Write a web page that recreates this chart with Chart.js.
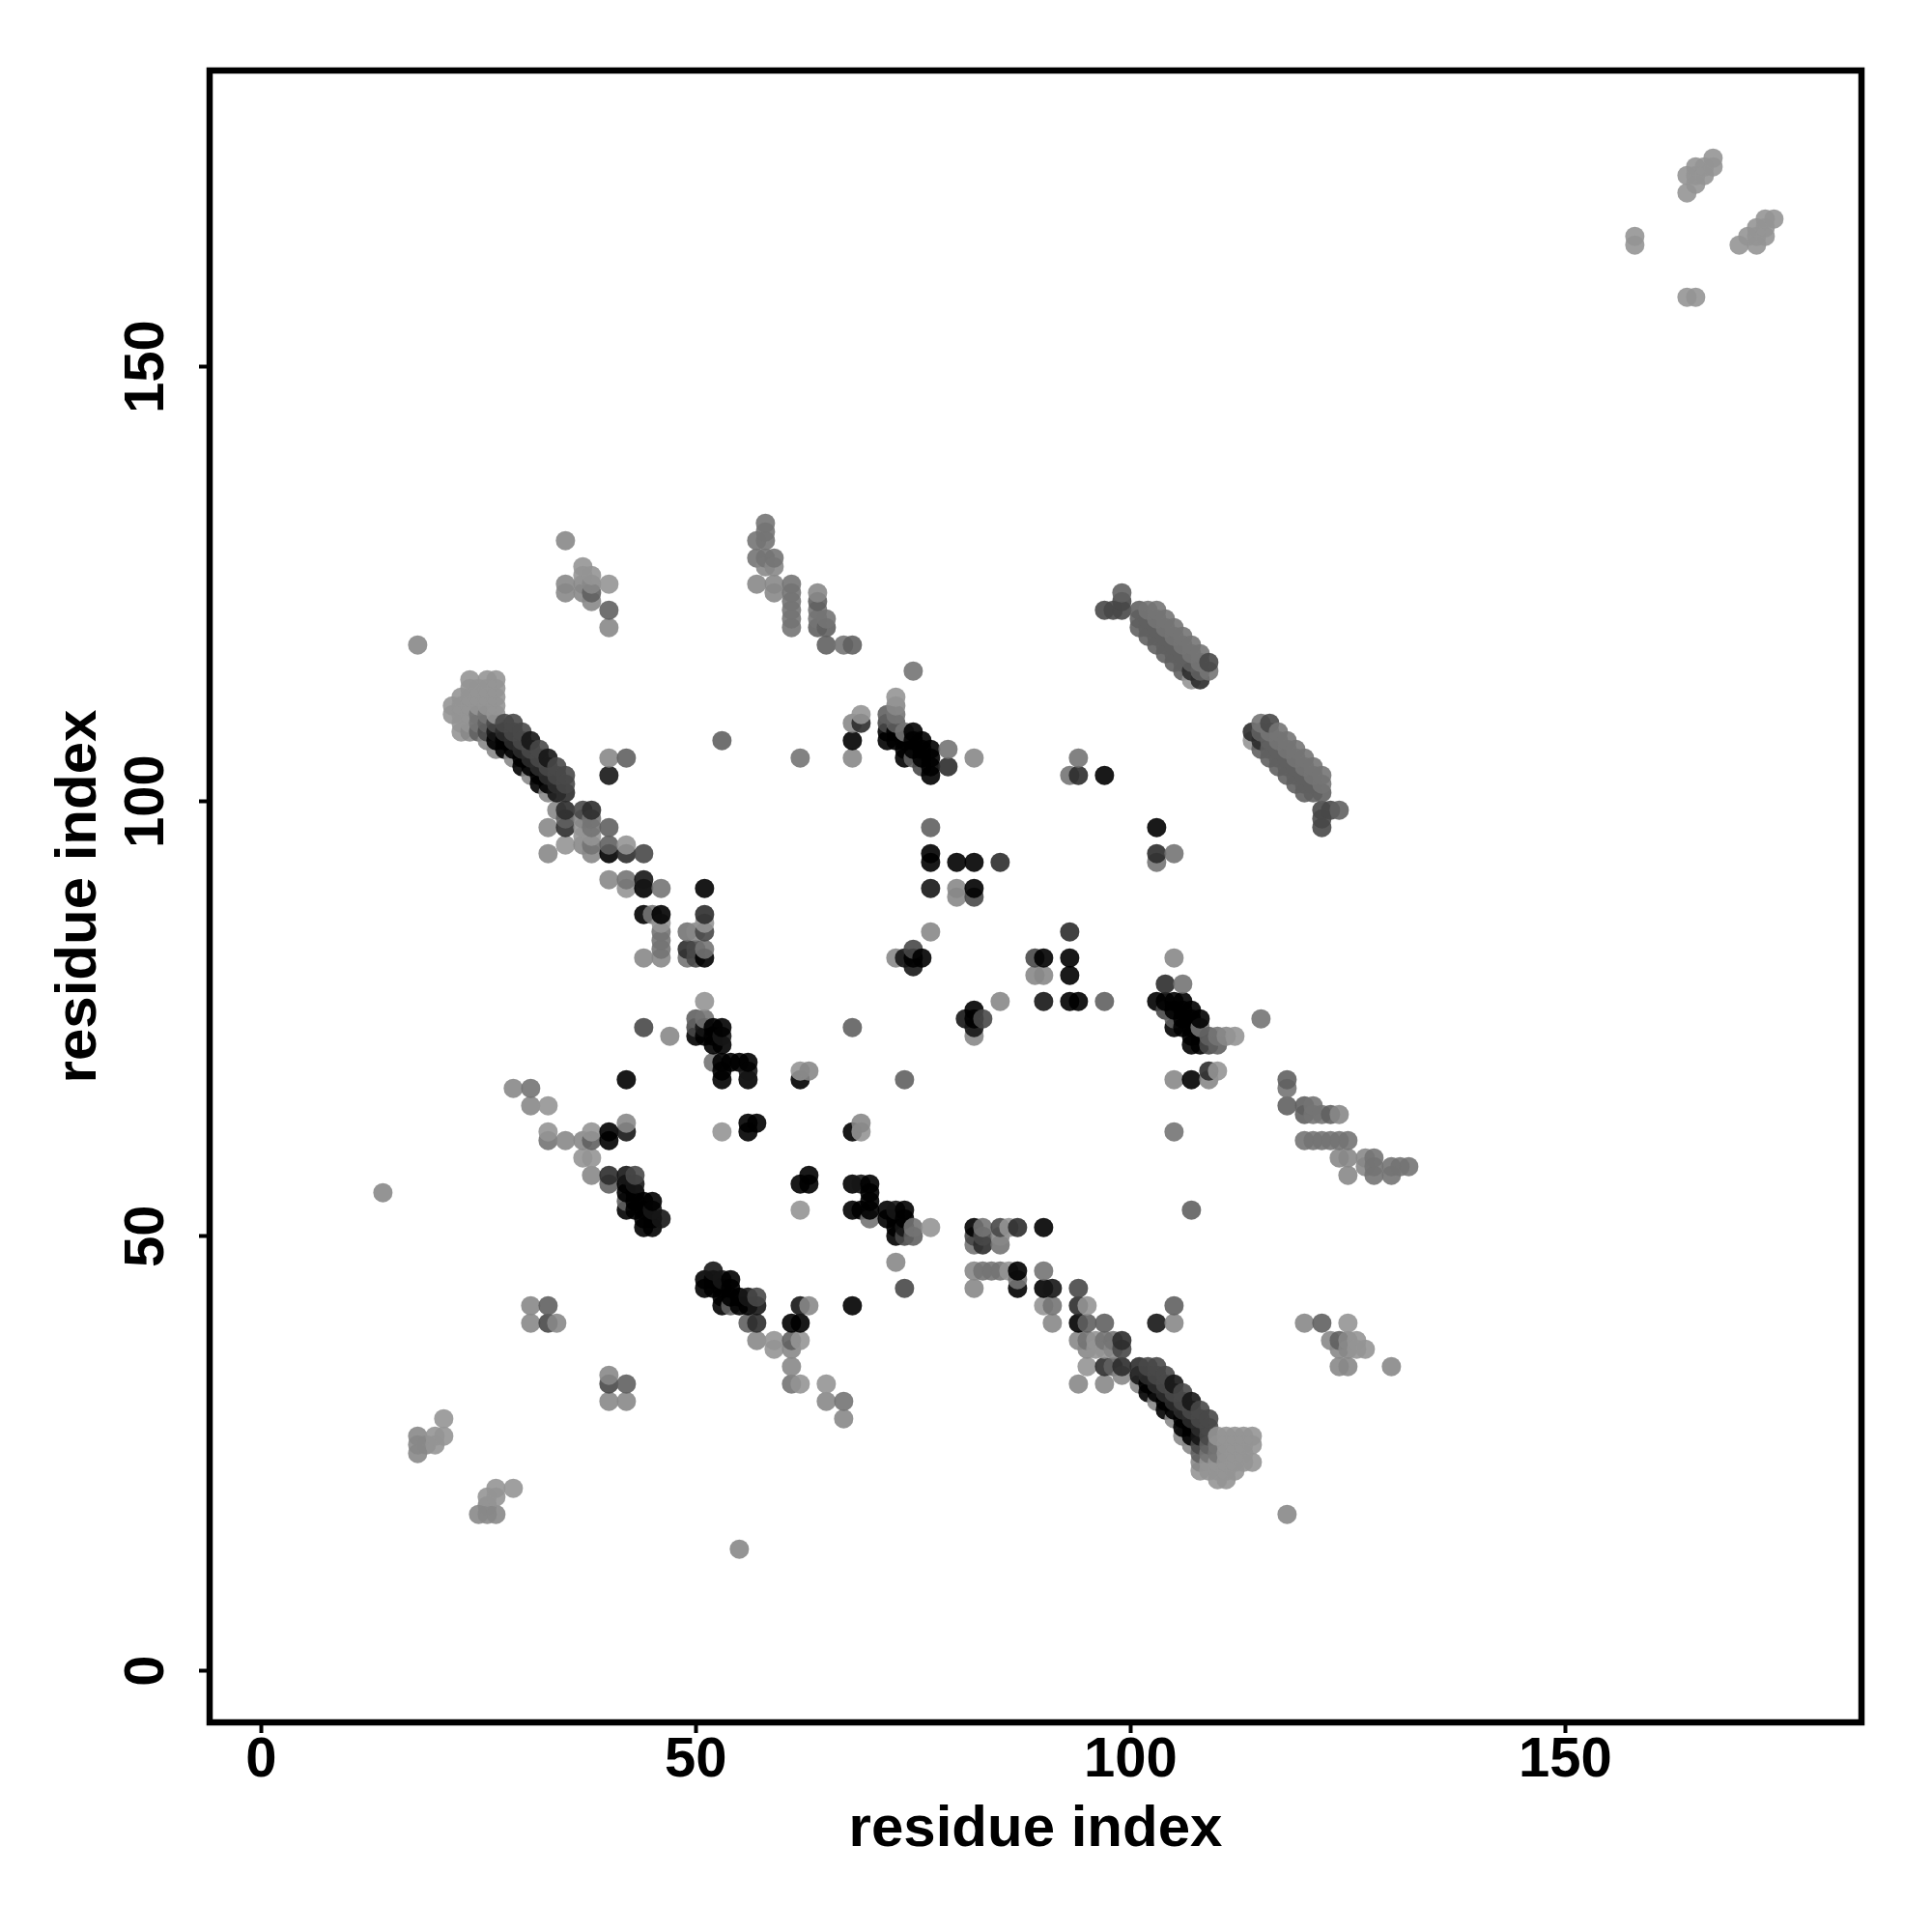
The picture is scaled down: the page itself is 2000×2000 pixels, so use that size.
<!DOCTYPE html>
<html>
<head>
<meta charset="utf-8">
<title>residue contact map</title>
<script src="https://cdn.jsdelivr.net/npm/chart.js@4"></script>
<style>
  html, body { margin: 0; padding: 0; background: #fff; }
  canvas { display: block; }
</style>
</head>
<body>
<canvas id="contactMap" width="2000" height="2000"></canvas>
<script>
// residue pairs [i, j] grouped by how dark the dot is in the picture
const tone5 = [[46,87],[51,90],[50,73],[51,73],[53,74],[52,73],[52,72],[53,72],[53,70],[54,70],[55,70],[56,70],
  [53,68],[56,68],[62,68],[56,63],[56,62],[68,62],[42,55],[43,55],[43,54],[44,54],[45,54],
  [42,53],[43,53],[44,53],[44,52],[45,52],[44,51],[45,51],[72,108],[72,107],[68,107],[73,108],[73,107],[74,107],
  [74,106],[74,105],[75,108],[75,107],[75,106],[76,107],[76,106],[76,105],[77,105],[77,103],[82,90],[90,82],[97,103],
  [28,107],[29,106],[30,105],[31,104],[32,103],[33,102],[27,107],[28,106],[30,104],[32,102]];
const tone25 = [[40,94],[44,90],[44,87],[51,82],[52,74],[53,69],[42,68],[40,62],[40,61],[42,56],[77,106],[77,104],
  [77,94],[77,93],[80,93],[76,82],[75,82],[82,93],[93,82],[93,80],[93,77],[82,75],[57,63]];
const tone45 = [[27,108],[31,107],[33,105],[34,101],[40,103],[44,91],[56,69],[42,62],[53,73],[46,52],[42,57],[43,56],
  [77,90],[74,82],[75,81],[94,77],[82,76],[81,75],[82,74],[51,74],[45,53]];
const tone65 = [[28,108],[35,101],[35,99],[35,97],[38,99],[42,94],[51,87],[49,83],[40,57],[69,109],[79,104],
  [85,93],[93,85],[90,77],[94,103],[107,115],[108,114],[114,108],[115,107],[29,107],[30,106],[31,105],[32,104],[33,103],[34,102]];
const tone90 = [[26,108],[27,109],[28,109],[29,109],[29,108],[30,108],[30,107],[32,106],[31,106],[32,105],[33,104],[34,104],
  [34,103],[35,103],[35,102],[37,99],[44,94],[51,85],[50,83],[50,82],[50,74],[44,74],[33,40],[43,57],[72,109],
  [76,104],[82,89],[83,75],[74,50],[99,122],[109,116],[116,109],[122,99],[123,99],[122,98],[122,97]];
const tone110 = [[25,108],[26,109],[38,124],[40,122],[35,98],[40,97],[40,95],[42,105],[53,107],[50,75],[40,56],[33,42],[64,123],
  [64,120],[65,120],[65,118],[68,118],[73,109],[72,110],[75,105],[77,97],[75,83],[97,77],[89,82],[68,74],[97,122],[98,122],
  [99,124],[38,61],[42,54],
  [101,122],[102,121],[103,120],[104,119],[105,118],[106,117],[107,116],[108,115],
  [101,121],[102,120],[103,119],[104,118],[105,117],[106,116],[102,119],[103,118],[104,117],[105,116],[106,115],
  [115,108],[122,101],[116,106],[117,105],[118,104],[119,103],[120,102],[121,101],[115,106],[116,105],[117,104],
  [118,103],[119,102],[120,101],[116,107],[117,106],[118,105],[119,104],[120,103],[121,102]];
const tone125 = [[25,109],[25,110],[26,110],[38,98],[38,97],[38,95],[42,91],[45,87],[46,90],[46,85],[46,84],[46,83],[49,85],[49,82],[51,83],
  [51,75],[31,67],[33,61],[52,70],[75,51],[75,50],[58,132],[58,131],[57,130],[58,130],[57,128],[58,128],[59,128],[61,125],
  [61,124],[61,123],[61,122],[61,121],[61,120],[64,122],[64,121],[65,121],[67,118],[75,115],[73,110],[62,105],[74,108],
  [79,106],[93,103],[94,105],[102,122],[103,122],[104,121],[105,120],[106,119],[107,118],[108,117],[103,121],[104,120],[105,119],[106,118],
  [107,117],[108,116],[109,115],[115,109],[117,108],[118,107],[120,105],[122,103],[116,108],[117,107],[118,106],[119,106],[119,105],[120,104],[121,104],[121,103],[122,102],[124,99]];
const tone140 = [[35,130],[37,125],[37,124],[35,125],[35,124],[38,125],[38,123],[40,120],[18,118],[26,107],[27,106],[29,105],
  [31,103],[33,101],[34,99],[33,97],[33,94],[37,98],[37,95],[38,94],[40,105],[40,91],[46,82],[44,82],[50,85],[47,73],[29,67],
  [31,65],[35,61],[37,61],[42,63],[38,57],[14,55],[31,42],[31,40],[34,40],[63,69],[24,108],[58,127],[59,127],[57,125],[59,125],
  [59,124],[64,124],[73,111],[68,109],[68,105],[82,105],[80,89],[77,85],[73,82],[90,80],[85,77],[18,27],[18,26],[18,25],[19,26]];
const tone155 = [[37,127],[38,126],[37,126],[40,125],[24,114],[26,114],[27,114],[24,113],[25,113],[26,113],[27,113],[23,112],
  [24,112],[25,112],[26,112],[27,112],[22,111],[23,111],[24,111],[25,111],[26,111],[27,111],[22,110],[23,110],[24,110],
  [27,110],[23,109],[24,109],[23,108],[35,95],[38,96],[37,97],[37,96],[42,95],[42,90],[46,86],[51,86],
  [51,77],[33,65],[33,62],[38,62],[37,59],[38,59],[62,69],[53,62],[77,51],[69,110],[73,112],[80,90],[89,80],[82,73],
  [107,114],[114,107],[21,29],[21,27],[20,27],[20,26],
  [158,164],[158,165],[164,170],[164,172],[165,171],[165,172],[165,173],[166,172],[166,173],[167,173],[167,174]];
const tickValues = [0, 50, 100, 150];
const axisMin = -5.93;
const axisMax = 184.07;

const toneGroups = [[5, tone5], [25, tone25], [45, tone45], [65, tone65], [90, tone90],
  [112, tone110], [130, tone125], [148, tone140], [160, tone155]];

// the map is symmetric, and later residues are painted over earlier ones
const seen = new Set();
const points = [];
toneGroups.forEach(([tone, pairs]) => {
  pairs.forEach(([a, b]) => {
    const key = Math.min(a, b) + '-' + Math.max(a, b);
    if (seen.has(key)) return;
    seen.add(key);
    points.push({ x: a, y: b, tone });
    points.push({ x: b, y: a, tone });
  });
});
points.sort((p, q) => p.x - q.x || p.y - q.y);

const dotAlpha = 0.9;
const dotColor = tone => {
  const g = Math.max(0, Math.round((tone - 255 * (1 - dotAlpha)) / dotAlpha));
  return `rgba(${g},${g},${g},${dotAlpha})`;
};

const frame = {
  id: 'frame',
  afterDatasetsDraw(chart) {
    const { ctx, chartArea: a } = chart;
    ctx.save();
    ctx.strokeStyle = '#000';
    ctx.lineWidth = 6.5;
    ctx.strokeRect(a.left, a.top, a.right - a.left, a.bottom - a.top);
    ctx.restore();
  },
};

const tickFont = { family: '"Liberation Sans"', size: 58, weight: 'bold' };
const titleFont = { family: '"Liberation Sans"', size: 60, weight: 'bold' };
const axisBase = {
  type: 'linear',
  min: axisMin,
  max: axisMax,
  afterBuildTicks(scale) { scale.ticks = tickValues.map(value => ({ value })); },
  grid: { drawOnChartArea: false, tickLength: 11, tickWidth: 4, tickColor: '#000' },
  border: { display: false },
};

new Chart(document.getElementById('contactMap'), {
  type: 'scatter',
  data: {
    datasets: [{
      data: points,
      pointRadius: 10,
      pointHoverRadius: 10,
      borderWidth: 0,
      pointBorderWidth: 0,
      pointBackgroundColor: points.map(p => dotColor(p.tone)),
    }],
  },
  options: {
    responsive: false,
    animation: false,
    layout: { padding: { top: 73, right: 73, left: 0, bottom: 0 } },
    plugins: { legend: { display: false }, tooltip: { enabled: false } },
    scales: {
      x: {
        ...axisBase,
        afterFit(scale) { scale.height = 217; },
        ticks: { color: '#000', font: tickFont, padding: -6, maxRotation: 0, minRotation: 0, callback: v => String(v) },
        title: { display: true, text: 'residue index', color: '#000', font: titleFont, padding: { top: 0, bottom: 70 } },
      },
      y: {
        ...axisBase,
        afterFit(scale) { scale.width = 217; },
        ticks: { color: '#000', font: tickFont, padding: 5, minRotation: 90, maxRotation: 90, crossAlign: 'center', callback: v => String(v) },
        title: { display: true, text: 'residue index', color: '#000', font: titleFont, padding: { top: 46, bottom: 0 } },
      },
    },
  },
  plugins: [frame],
});
</script>
</body>
</html>
